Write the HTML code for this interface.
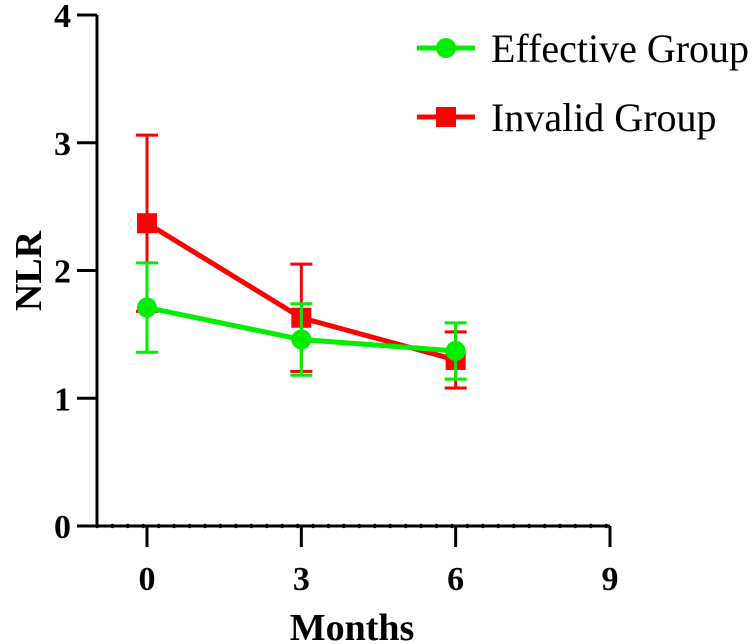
<!DOCTYPE html>
<html><head><meta charset="utf-8"><style>
body{margin:0;background:#fff}
svg{display:block;font-family:"Liberation Serif",serif}
</style></head><body>
<svg id="chart" width="752" height="644"></svg>
<script>
const months=[0,3,6];
const effMean=[1.71,1.46,1.37];
const effErr=[0.35,0.28,0.22];
const invMean=[2.37,1.63,1.30];
const invErr=[0.69,0.42,0.22];
const yTicks=[0,1,2,3,4];
const xTicks=[0,3,6,9];
const NS='http://www.w3.org/2000/svg';
const svg=document.getElementById('chart');
const X=v=>147+v*154.33/3;
const Y=v=>526-v*127.75;
function el(t,a,p){const e=document.createElementNS(NS,t);for(const k in a)e.setAttribute(k,a[k]);(p||svg).appendChild(e);return e;}
let e;
e=el('line',{x1:97,y1:Y(4),x2:97,y2:527.5,stroke:'#000','stroke-width':3});


e=el('line',{x1:95.5,y1:526,x2:X(9),y2:526,stroke:'#000','stroke-width':3});


for(let i=0;i<=33;i++){const x=97+i*15.433;if(x>X(9)+1)break;
e=el('circle',{cx:x,cy:526,r:2.2,fill:'#000'});

}
yTicks.forEach(v=>{
e=el('line',{x1:77,y1:Y(v),x2:97,y2:Y(v),stroke:'#000','stroke-width':3});


e=el('text',{x:71,y:Y(v)+12,'text-anchor':'end','font-size':34,'font-weight':'bold'});e.textContent=v;

});
xTicks.forEach(v=>{
e=el('line',{x1:X(v),y1:526,x2:X(v),y2:547,stroke:'#000','stroke-width':3});


e=el('text',{x:X(v),y:590,'text-anchor':'middle','font-size':34,'font-weight':'bold'});e.textContent=v;

});
e=el('text',{x:352,y:640,'text-anchor':'middle','font-size':38,'font-weight':'bold'});e.textContent='Months';


e=el('text',{x:0,y:0,'text-anchor':'middle','font-size':38,'font-weight':'bold',transform:'translate(41,271) rotate(-90)'});e.textContent='NLR';


function series(mean,err,color,shape,name){
months.forEach((m,i)=>{const x=X(m);
e=el('line',{x1:x,y1:Y(mean[i]+err[i]),x2:x,y2:Y(mean[i]-err[i]),stroke:color,'stroke-width':3});


[mean[i]+err[i],mean[i]-err[i]].forEach(v=>{
e=el('line',{x1:x-11,y1:Y(v),x2:x+11,y2:Y(v),stroke:color,'stroke-width':3});

});});
e=el('polyline',{points:months.map((m,i)=>X(m)+','+Y(mean[i])).join(' '),fill:'none',stroke:color,'stroke-width':5});


months.forEach((m,i)=>{
if(shape==='c')e=el('circle',{cx:X(m),cy:Y(mean[i]),r:10,fill:color});
else e=el('rect',{x:X(m)-10,y:Y(mean[i])-10,width:20,height:20,fill:color});

});}
series(invMean,invErr,'#ff0000','s','invalid');
series(effMean,effErr,'#00ee00','c','effective');
e=el('line',{x1:417,y1:48,x2:475,y2:48,stroke:'#00ee00','stroke-width':5});


e=el('circle',{cx:446,cy:48,r:10,fill:'#00ee00'});


e=el('text',{x:491,y:62,'font-size':40});e.textContent='Effective Group';


e=el('line',{x1:417,y1:117,x2:475,y2:117,stroke:'#ff0000','stroke-width':5});


e=el('rect',{x:436,y:107,width:20,height:20,fill:'#ff0000'});


e=el('text',{x:491,y:131,'font-size':40});e.textContent='Invalid Group';


</script>
</body></html>
